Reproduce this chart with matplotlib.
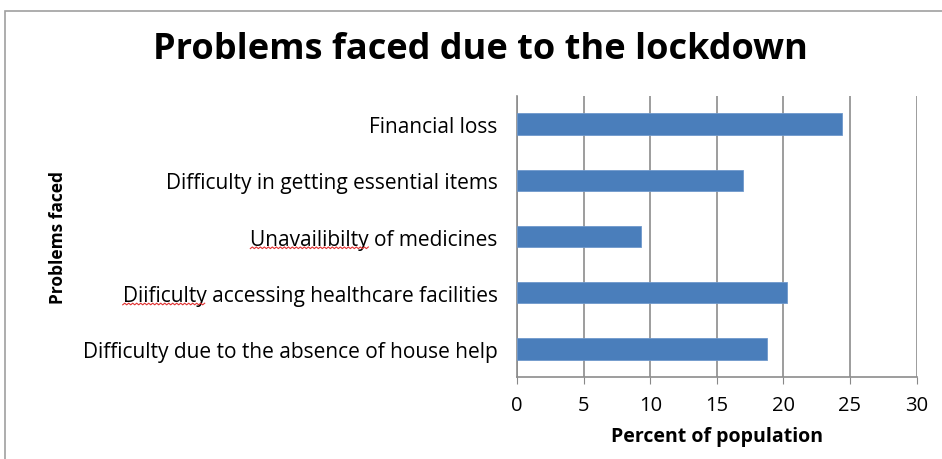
import numpy as np
import matplotlib.pyplot as plt
from matplotlib.patches import Rectangle

# data
problems = ['Financial loss',
            'Difficulty in getting essential items',
            'Unavailibilty of medicines',
            'Diificulty accessing healthcare facilities',
            'Difficulty due to the absence of house help']
percent = [24.4, 17.0, 9.3, 20.25, 18.8]
xticks = [0, 5, 10, 15, 20, 25, 30]
# words the spell checker underlined in the original
misspelt = {'Unavailibilty of medicines': 'Unavailibilty',
            'Diificulty accessing healthcare facilities': 'Diificulty'}

plt.rcParams['font.family'] = ['Open Sans', 'DejaVu Sans']

fig = plt.figure(figsize=(9.42, 4.6), dpi=100)
ax = fig.add_axes([0.549, 0.178, 0.424, 0.611])

# outer chart border
fig.patches.append(Rectangle((0.005, -0.01), 1.0, 0.984, transform=fig.transFigure,
                             fill=False, edgecolor='#a0a0a0', linewidth=1.2))

ypos = list(range(len(problems)))[::-1]
ax.barh(ypos, percent, height=0.38, color='#4a7ebb', edgecolor='#6f98cc',
        linewidth=0.6, zorder=3)

ax.set_xlim(0, 30)
ax.set_ylim(-0.5, 4.5)
ax.set_xticks(xticks)
ax.set_xticklabels([str(t) for t in xticks], fontsize=14.5)
ax.set_yticks(ypos)
ax.set_yticklabels(problems, fontsize=15)
ax.tick_params(axis='y', length=0, pad=14)
ax.tick_params(axis='x', length=5, color='#888888', pad=8)
ax.grid(axis='x', color='#8c8c8c', linewidth=1.2, zorder=0)

for s in ['top', 'right']:
    ax.spines[s].set_visible(False)
ax.spines['left'].set_color('#8c8c8c')
ax.spines['left'].set_linewidth(1.2)
ax.spines['bottom'].set_color('#8c8c8c')
ax.spines['bottom'].set_linewidth(1.2)

ax.set_xlabel('Percent of population', fontsize=14, fontweight='bold', labelpad=8)
fig.text(0.062, 0.483, 'Problems faced', rotation=90, fontsize=12.5,
         fontweight='bold', ha='center', va='center')
fig.text(0.51, 0.891, 'Problems faced due to the lockdown', fontsize=26,
         fontweight='bold', ha='center', va='center')

# red wavy spell-check underline under the misspelt words
fig.canvas.draw()
renderer = fig.canvas.get_renderer()
for lab in ax.get_yticklabels():
    word = misspelt.get(lab.get_text())
    if not word:
        continue
    bb = lab.get_window_extent(renderer)
    tmp = fig.text(0, 0, word, fontsize=15)
    w = tmp.get_window_extent(renderer).width
    tmp.remove()
    xs = np.arange(bb.x0, bb.x0 + w, 2.0)
    ys = bb.y0 + 1 + np.where(np.arange(len(xs)) % 2 == 0, 0, 1.6)
    fig.add_artist(plt.Line2D(xs / fig.bbox.width, ys / fig.bbox.height,
                              transform=fig.transFigure, color='#e03030',
                              linewidth=0.8))

fig.savefig('out.png', dpi=100)
